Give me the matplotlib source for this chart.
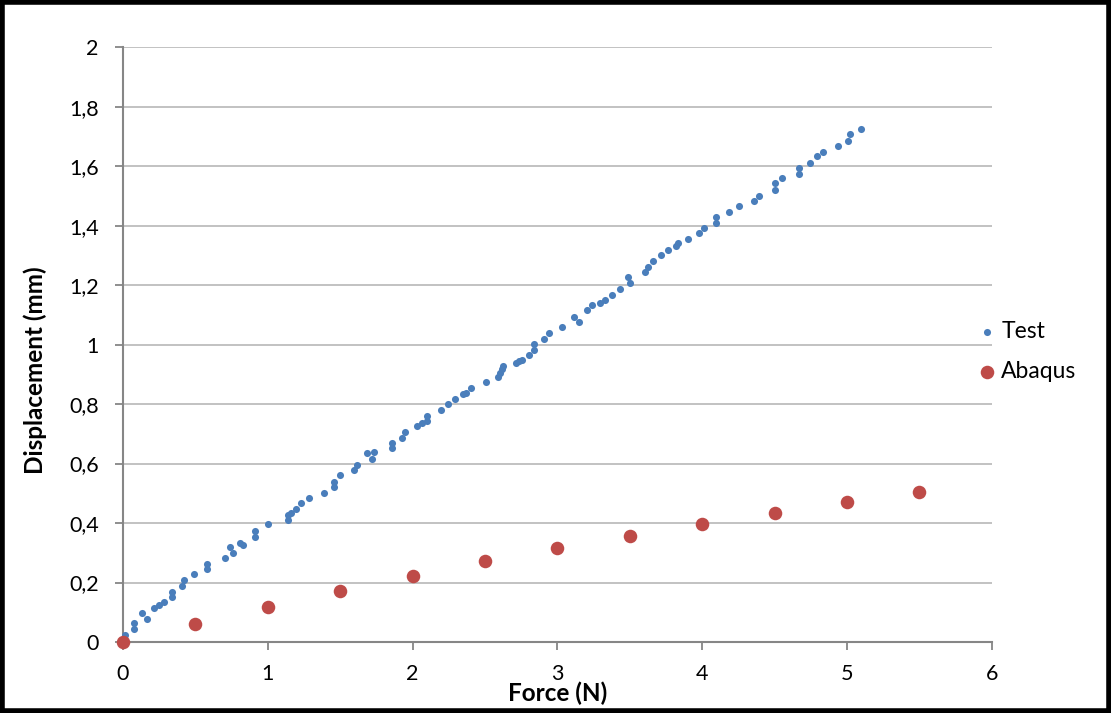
import matplotlib
matplotlib.use('Agg')
from matplotlib import pyplot as plt
from matplotlib.patches import Rectangle
from matplotlib.ticker import FuncFormatter

# Test data (force in N, displacement in mm)
test_force = [0, 0.014, 0.076, 0.076, 0.129, 0.164, 0.214, 0.249, 0.283, 0.336,
              0.336, 0.405, 0.423, 0.492, 0.582, 0.582, 0.704, 0.739, 0.757, 0.808,
              0.826, 0.911, 0.911, 1.001, 1.141, 1.141, 1.160, 1.194, 1.227, 1.282,
              1.388, 1.457, 1.457, 1.498, 1.597, 1.614, 1.683, 1.717, 1.735, 1.855,
              1.855, 1.928, 1.947, 2.032, 2.067, 2.101, 2.101, 2.194, 2.244, 2.294,
              2.350, 2.366, 2.401, 2.504, 2.591, 2.603, 2.615, 2.626, 2.714, 2.736,
              2.753, 2.803, 2.838, 2.838, 2.907, 2.941, 3.031, 3.114, 3.151, 3.202,
              3.240, 3.294, 3.328, 3.378, 3.434, 3.485, 3.501, 3.606, 3.625, 3.662,
              3.713, 3.765, 3.818, 3.834, 3.903, 3.977, 4.012, 4.094, 4.094, 4.184,
              4.253, 4.359, 4.393, 4.500, 4.500, 4.552, 4.672, 4.672, 4.743, 4.794,
              4.833, 4.935, 5.004, 5.024, 5.094]
test_disp = [0, 0.024, 0.044, 0.064, 0.096, 0.077, 0.113, 0.124, 0.135, 0.152,
             0.169, 0.188, 0.208, 0.229, 0.245, 0.262, 0.281, 0.318, 0.300, 0.334,
             0.326, 0.354, 0.374, 0.396, 0.410, 0.427, 0.433, 0.446, 0.468, 0.483,
             0.502, 0.522, 0.539, 0.561, 0.578, 0.595, 0.634, 0.614, 0.638, 0.651,
             0.668, 0.687, 0.707, 0.727, 0.737, 0.743, 0.761, 0.780, 0.800, 0.818,
             0.834, 0.838, 0.854, 0.873, 0.892, 0.905, 0.917, 0.928, 0.939, 0.945,
             0.948, 0.965, 0.982, 1.001, 1.019, 1.040, 1.060, 1.093, 1.077, 1.118,
             1.135, 1.141, 1.150, 1.166, 1.187, 1.228, 1.207, 1.244, 1.262, 1.280,
             1.300, 1.317, 1.333, 1.342, 1.354, 1.374, 1.393, 1.409, 1.428, 1.446,
             1.466, 1.483, 1.499, 1.519, 1.544, 1.561, 1.575, 1.594, 1.611, 1.634,
             1.649, 1.667, 1.686, 1.708, 1.727]

# Abaqus results
abaqus_force = [0, 0.5, 1, 1.5, 2, 2.5, 3, 3.5, 4, 4.5, 5, 5.5]
abaqus_disp = [0, 0.06, 0.116, 0.17, 0.222, 0.271, 0.316, 0.358, 0.397, 0.435, 0.47, 0.503]

plt.rcParams['font.family'] = ['Lato', 'DejaVu Sans']

fig = plt.figure(figsize=(11.11, 7.13), dpi=100)
ax = fig.add_axes([0.1107, 0.0996, 0.782, 0.834])

ax.scatter(test_force, test_disp, s=26, color='#4a7ebb', label='Test', zorder=3,
           linewidths=0, clip_on=False)
ax.scatter(abaqus_force, abaqus_disp, s=95, color='#be4b48', label='Abaqus', zorder=4,
           linewidths=0, clip_on=False)

ax.set_xlim(0, 6)
ax.set_ylim(0, 2)
ax.set_xticks(range(0, 7))
ax.set_yticks([i * 0.2 for i in range(11)])
ax.yaxis.set_major_formatter(FuncFormatter(lambda v, p: ('%g' % round(v, 1)).replace('.', ',')))
ax.grid(axis='y', color='#bdbdbd', linewidth=1.3)
ax.set_axisbelow(True)
for s in ['top', 'right']:
    ax.spines[s].set_visible(False)
for s in ['left', 'bottom']:
    ax.spines[s].set_color('#868686')
    ax.spines[s].set_linewidth(1.5)
ax.tick_params(axis='both', colors='#868686', labelcolor='black', labelsize=15.5,
               length=5.5, width=1.3)
ax.tick_params(axis='x', pad=10)
ax.tick_params(axis='y', pad=12)

ax.set_xlabel('Force (N)', fontsize=17.5, fontweight='bold', va='center')
ax.set_ylabel('Displacement (mm)', fontsize=17.5, fontweight='bold', va='center')
ax.xaxis.set_label_coords(0.5006, -0.0857)
ax.yaxis.set_label_coords(-0.101, 0.457)

fig.legend(loc='center left', bbox_to_anchor=(0.862, 0.507), frameon=False, fontsize=16.5,
           handlelength=0.8, handletextpad=0.2, labelspacing=0.85)

# black outer frame
fig.patches.append(Rectangle((0.002, 0.003), 0.996, 0.994, transform=fig.transFigure,
                             fill=False, edgecolor='black', linewidth=4))

fig.savefig('out.png', dpi=100)
